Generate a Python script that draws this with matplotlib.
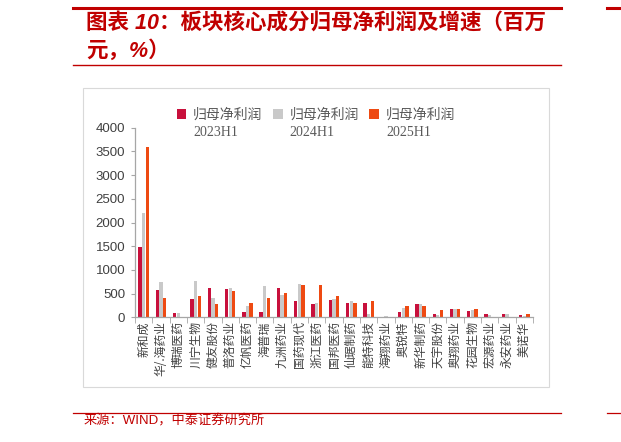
import numpy as np
import matplotlib
matplotlib.use('Agg')
import matplotlib.pyplot as plt
from matplotlib.patches import Rectangle
from matplotlib.lines import Line2D

plt.rcParams['font.family'] = ['Liberation Sans', 'Noto Sans CJK SC', 'DejaVu Sans']

# data (million yuan)
companies = ['新和成', '华/.海药业', '博瑞医药', '川宁生物', '健友股份', '普洛药业', '亿帆医药',
             '海普瑞', '九洲药业', '国药现代', '浙江医药', '国邦医药', '仙琚制药', '能特科技',
             '海翔药业', '奥锐特', '新华制药', '天宇股份', '奥翔药业', '花园生物', '宏源药业',
             '永安药业', '美诺华']
profit_2023h1 = [1490, 570, 100, 390, 620, 600, 105, 120, 615, 345, 275, 360, 300, 300,
                 8, 105, 280, 75, 165, 125, 75, 70, 40]
profit_2024h1 = [2210, 750, 100, 760, 400, 615, 245, 660, 470, 710, 305, 390, 335, 60,
                 20, 195, 280, 55, 185, 145, 40, 60, 28]
profit_2025h1 = [3600, 410, 8, 450, 285, 555, 300, 415, 520, 675, 675, 450, 310, 335,
                 5, 245, 235, 155, 175, 175, 8, 15, 60]
series_labels = ['归母净利润\n2023H1', '归母净利润\n2024H1', '归母净利润\n2025H1']
colors = ['#C8103C', '#C9C9C9', '#EE4A12']

W, H = 621, 442
fig = plt.figure(figsize=(W / 100, H / 100), dpi=100)

def fx(px):
    return px / W

def fy(py):
    return 1 - py / H

red = '#C00000'
# header / footer rules
fig.add_artist(Line2D([fx(73), fx(561)], [fy(8), fy(8)], color=red, lw=2.2))
fig.add_artist(Line2D([fx(73), fx(561)], [fy(65), fy(65)], color=red, lw=1.0))
fig.add_artist(Line2D([fx(73), fx(561)], [fy(413), fy(413)], color=red, lw=0.9))
fig.add_artist(Line2D([fx(607), fx(621)], [fy(8), fy(8)], color=red, lw=2.2))
fig.add_artist(Line2D([fx(607), fx(621)], [fy(413), fy(413)], color=red, lw=0.9))

title_font = ['Liberation Sans', 'Noto Sans CJK SC']
fig.text(fx(86), fy(24.5), '图表 10：板块核心成分归母净利润及增速（百万', color=red,
         fontsize=15.5, fontweight='bold', style='italic', family=title_font, va='center')
fig.text(fx(86), fy(51), '元，%）', color=red, fontsize=15.5, fontweight='bold',
         style='italic', family=title_font, va='center')
fig.text(fx(84), fy(421), '来源：WIND，中泰证券研究所', color=red, fontsize=9.5,
         family=title_font, va='center')

# light frame around the chart
fig.add_artist(Rectangle((fx(83), fy(387)), fx(549) - fx(83), fy(88) - fy(387),
                         transform=fig.transFigure, fill=False, edgecolor='#D9D9D9', lw=0.8))

ax = fig.add_axes([fx(135), fy(317.3), fx(533) - fx(135), fy(127.7) - fy(317.3)])

x = np.arange(len(companies))
bw = 0.21
for i, (vals, c, lab) in enumerate(zip([profit_2023h1, profit_2024h1, profit_2025h1],
                                      colors, series_labels)):
    ax.bar(x + (i - 1) * bw, vals, width=bw * 0.92, color=c, label=lab)

ax.set_xlim(-0.5, len(companies) - 0.5)
ax.set_ylim(0, 4000)
ax.set_yticks(np.arange(0, 4001, 500))
ax.tick_params(axis='y', labelsize=9.5, labelcolor='#404040', color='#A6A6A6',
               length=3, pad=4)
ax.set_xticks(x)
ax.set_xticklabels(companies, rotation=90, fontsize=8.5, color='#404040',
                   family=['Noto Sans CJK SC', 'DejaVu Sans'], va='top')
ax.tick_params(axis='x', length=0, pad=3)
ax.set_xticks(np.arange(-0.5, len(companies), 1), minor=True)
ax.tick_params(axis='x', which='minor', length=4, color='#A6A6A6')

for s in ['top', 'right']:
    ax.spines[s].set_visible(False)
for s in ['left', 'bottom']:
    ax.spines[s].set_color('#A6A6A6')
    ax.spines[s].set_linewidth(0.9)

leg = fig.legend(loc='upper left', bbox_to_anchor=(fx(164), fy(96)), ncol=3,
                 frameon=False, handlelength=0.7, handleheight=0.7,
                 handletextpad=0.5, columnspacing=0.75, labelcolor='#595959',
                 prop={'family': ['Liberation Serif', 'Noto Sans CJK SC'], 'size': 10})
for t in leg.get_texts():
    t.set_linespacing(1.45)
# put the square marker next to the first line of each label
for h in leg.legend_handles:
    h.set_y(h.get_y() + 7.5)

fig.savefig('out.png', dpi=100)
